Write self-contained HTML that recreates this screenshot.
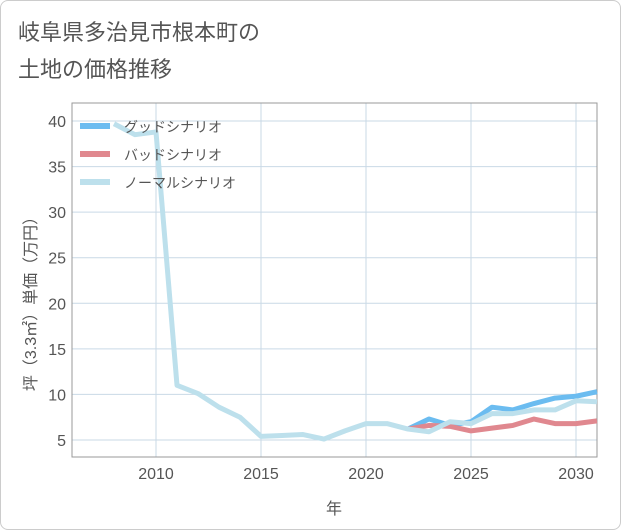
<!DOCTYPE html>
<html><head><meta charset="utf-8"><style>
body{margin:0;background:#fff;font-family:"Liberation Sans","Noto Sans CJK JP",sans-serif}
#card{position:absolute;left:0;top:0;width:619px;height:528px;border:1px solid #ccc;border-radius:8px;background:#fff}
</style></head><body>
<div id="card"></div>
<svg id="c" width="621" height="530" style="position:absolute;left:0;top:0"></svg>
<script>
const years=[2008,2009,2010,2011,2012,2013,2014,2015,2016,2017,2018,2019,2020,2021,2022,2023,2024,2025,2026,2027,2028,2029,2030,2031];
const normal=[39.7,38.5,38.8,11.0,10.1,8.6,7.5,5.4,5.5,5.6,5.1,6.0,6.8,6.8,6.2,5.9,7.0,6.8,7.9,7.9,8.3,8.3,9.3,9.2];
const goodYears=[2022,2023,2024,2025,2026,2027,2028,2029,2030,2031];
const good=[6.2,7.3,6.6,7.0,8.6,8.3,9.0,9.6,9.8,10.3];
const bad=[6.2,6.6,6.5,6.0,6.3,6.6,7.3,6.8,6.8,7.1];
const yTicks=[5,10,15,20,25,30,35,40];
const xTicks=[2010,2015,2020,2025,2030];
const NS="http://www.w3.org/2000/svg",svg=document.getElementById('c');
const X=y=>72+(y-2006)*21, Y=v=>440-(v-5)*9.114;
function el(t,a,p){const e=document.createElementNS(NS,t);for(const k in a)e.setAttribute(k,a[k]);(p||svg).appendChild(e);return e;}
function txt(s,a){const e=el('text',a);e.textContent=s;return e;}
let t1=txt('岐阜県多治見市根本町の',{x:18,y:40,'font-size':22,fill:'#555'});

let t2=txt('土地の価格推移',{x:18,y:77,'font-size':22,fill:'#555'});

for(let y=2005;y<=2031;y+=5){if(y<2006)continue;let l=el('line',{x1:X(y),x2:X(y),y1:103,y2:457,stroke:'#c9d9e6'});}
yTicks.forEach(v=>{let l=el('line',{x1:72,x2:597,y1:Y(v),y2:Y(v),stroke:'#c9d9e6'});
let t=txt(v,{x:66,y:Y(v)+6,'font-size':16,fill:'#555','text-anchor':'end'});});
xTicks.forEach(v=>{let t=txt(v,{x:X(v),y:479,'font-size':16,fill:'#555','text-anchor':'middle'});});
let fr=el('rect',{x:72,y:103,width:525,height:354,fill:'none',stroke:'#999'});
let xt=txt('年',{x:334,y:514,'font-size':16,fill:'#555','text-anchor':'middle'});
let yt=txt('坪（3.3㎡）単価（万円）',{x:0,y:0,'font-size':16,fill:'#555','text-anchor':'middle',transform:'translate(36,300) rotate(-90)'});
function line(xs,vs,c,n){let p=el('polyline',{points:xs.map((y,i)=>X(y)+','+Y(vs[i])).join(' '),fill:'none',stroke:c,'stroke-width':5,'stroke-linejoin':'round'});}
line(goodYears,good,'#6bbcf0','good-scenario-line');
line(goodYears,bad,'#e0888f','bad-scenario-line');
line(years,normal,'#bde0ec','normal-scenario-line');
[['グッドシナリオ','#6bbcf0'],['バッドシナリオ','#e0888f'],['ノーマルシナリオ','#bde0ec']].forEach((d,i)=>{
let g=el('g',{});
el('rect',{x:80,y:123+i*28,width:30,height:6,fill:d[1]},g);
let t=el('text',{x:124,y:132+i*28,'font-size':14,fill:'#555'},g);t.textContent=d[0];});
</script></body></html>
